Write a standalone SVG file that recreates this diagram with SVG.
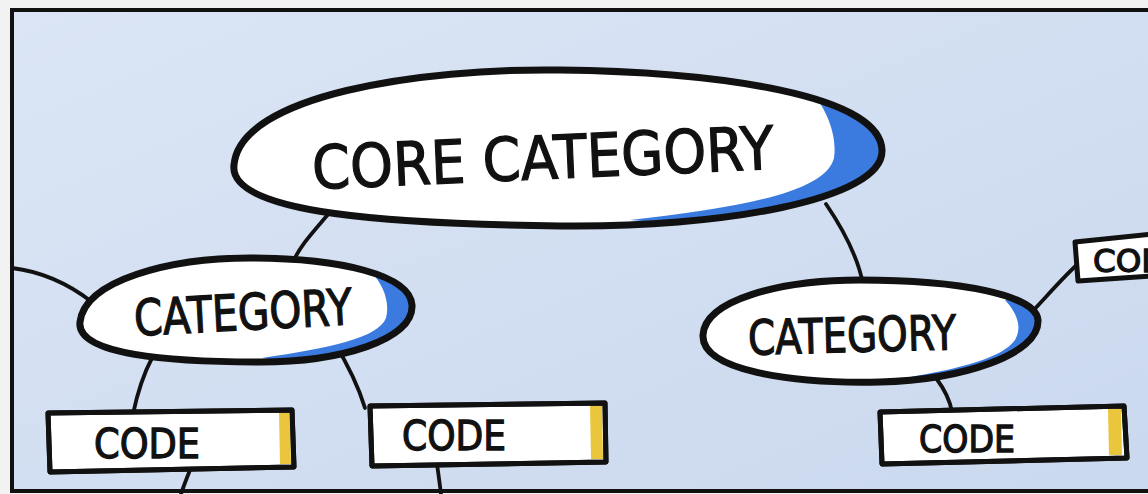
<svg xmlns="http://www.w3.org/2000/svg" width="1148" height="494" viewBox="0 0 1148 494">
<defs>
<style>
.outline{fill:none;stroke:#111;stroke-width:7;stroke-linejoin:round}
.fillw{fill:#fff}
.blue{fill:#3b7be0}
.box{fill:#fff;stroke:#111;stroke-width:5;stroke-linejoin:round}
.boxo{fill:none;stroke:#111;stroke-width:5;stroke-linejoin:round}
.yel{fill:#e9c63c}
.conn{fill:none;stroke:#111;stroke-width:3.8;stroke-linecap:round}
.lbl{font-family:"DejaVu Sans","Liberation Sans",sans-serif;fill:#111;stroke:#111;stroke-width:1.3;text-anchor:middle}
</style>
<linearGradient id="bg" x1="0" y1="0" x2="1" y2="1">
<stop offset="0" stop-color="#dbe5f5"/>
<stop offset="1" stop-color="#cad8ee"/>
</linearGradient>
<clipPath id="cpCore"><path d="M 234,165 C 240,95 420,68 560,70 C 720,72 880,95 882,150 C 884,200 720,228 560,226 C 400,224 228,215 234,165 Z"/></clipPath>
<clipPath id="cpLeft"><path d="M 80,322 C 85,280 170,258 250,258 C 340,258 410,275 412,305 C 414,340 340,362 260,362 C 170,362 76,355 80,322 Z"/></clipPath>
<clipPath id="cpRight"><path d="M 703,335 C 705,300 780,280 860,280 C 960,280 1036,295 1038,320 C 1040,355 960,380 880,382 C 790,384 701,370 703,335 Z"/></clipPath>
</defs>
<rect x="0" y="0" width="1148" height="494" fill="#f2f2f2"/>
<rect x="12" y="10" width="1150" height="481" fill="url(#bg)" stroke="#111" stroke-width="4"/>
<g id="connectors">
<path class="conn" d="M 12,268 C 45,272 70,285 92,302"/>
<path class="conn" d="M 330,212 C 315,230 300,245 292,264"/>
<path class="conn" d="M 826,204 C 845,232 858,258 863,284"/>
<path class="conn" d="M 152,358 C 143,375 137,395 133,414"/>
<path class="conn" d="M 334,342 C 348,365 358,385 365,408"/>
<path class="conn" d="M 190,470 C 186,480 183,488 181,494"/>
<path class="conn" d="M 437,464 C 439,478 440,486 441,494"/>
<path class="conn" d="M 936,378 C 945,390 950,400 952,412"/>
<path class="conn" d="M 1030,314 C 1048,295 1065,275 1080,262"/>
</g>
<g id="core">
<path class="fillw" d="M 234,165 C 240,95 420,68 560,70 C 720,72 880,95 882,150 C 884,200 720,228 560,226 C 400,224 228,215 234,165 Z"/>
<path class="blue" clip-path="url(#cpCore)" d="M 800,78 C 822,100 838,130 834,158 C 826,192 740,208 630,220 L 900,240 L 900,60 Z"/>
<path class="outline" d="M 234,165 C 240,95 420,68 560,70 C 720,72 880,95 882,150 C 884,200 720,228 560,226 C 400,224 228,215 234,165 Z"/>
<text class="lbl" x="543" y="179" font-size="60" textLength="462" lengthAdjust="spacingAndGlyphs" transform="rotate(-2.5 543 160)">CORE CATEGORY</text>
</g>
<g id="cat-left">
<path class="fillw" d="M 80,322 C 85,280 170,258 250,258 C 340,258 410,275 412,305 C 414,340 340,362 260,362 C 170,362 76,355 80,322 Z"/>
<path class="blue" clip-path="url(#cpLeft)" d="M 370,270 C 384,286 390,302 386,318 C 378,338 330,348 262,358 L 430,380 L 430,260 Z"/>
<path class="outline" d="M 80,322 C 85,280 170,258 250,258 C 340,258 410,275 412,305 C 414,340 340,362 260,362 C 170,362 76,355 80,322 Z"/>
<text class="lbl" x="243" y="330" font-size="50" textLength="218" lengthAdjust="spacingAndGlyphs" transform="rotate(-3 243 312)">CATEGORY</text>
</g>
<g id="cat-right">
<path class="fillw" d="M 703,335 C 705,300 780,280 860,280 C 960,280 1036,295 1038,320 C 1040,355 960,380 880,382 C 790,384 701,370 703,335 Z"/>
<path class="blue" clip-path="url(#cpRight)" d="M 1005,300 C 1018,314 1022,328 1015,340 C 1002,358 962,368 905,378 L 1060,400 L 1060,290 Z"/>
<path class="outline" d="M 703,335 C 705,300 780,280 860,280 C 960,280 1036,295 1038,320 C 1040,355 960,380 880,382 C 790,384 701,370 703,335 Z"/>
<text class="lbl" x="852" y="352" font-size="48" textLength="208" lengthAdjust="spacingAndGlyphs" transform="rotate(-1.5 852 335)">CATEGORY</text>
</g>
<g id="code-1">
<path class="box" d="M 48,413 L 292,410 L 294,467 L 50,472 Z"/>
<path class="yel" d="M 279,413 L 290,413 L 291,464 L 280,464 Z"/>
<path class="boxo" d="M 48,413 L 292,410 L 294,467 L 50,472 Z"/>
<text class="lbl" x="147" y="458" font-size="40" textLength="106" lengthAdjust="spacingAndGlyphs">CODE</text>
</g>
<g id="code-2">
<path class="box" d="M 370,406 L 605,403 L 606,462 L 372,466 Z"/>
<path class="yel" d="M 590,406 L 602,406 L 603,459 L 591,459 Z"/>
<path class="boxo" d="M 370,406 L 605,403 L 606,462 L 372,466 Z"/>
<text class="lbl" x="454" y="450" font-size="40" textLength="104" lengthAdjust="spacingAndGlyphs">CODE</text>
</g>
<g id="code-3">
<path class="box" d="M 880,412 L 1124,406 L 1127,458 L 882,464 Z"/>
<path class="yel" d="M 1108,409 L 1121,409 L 1122,455 L 1109,455 Z"/>
<path class="boxo" d="M 880,412 L 1124,406 L 1127,458 L 882,464 Z"/>
<text class="lbl" x="967" y="452" font-size="37" textLength="96" lengthAdjust="spacingAndGlyphs">CODE</text>
</g>
<g id="code-4">
<path class="box" d="M 1075,242 L 1152,234 L 1152,276 L 1078,281 Z"/>
<text class="lbl" x="1140" y="272" font-size="32" textLength="94" lengthAdjust="spacingAndGlyphs">CODE</text>
</g>
</svg>
